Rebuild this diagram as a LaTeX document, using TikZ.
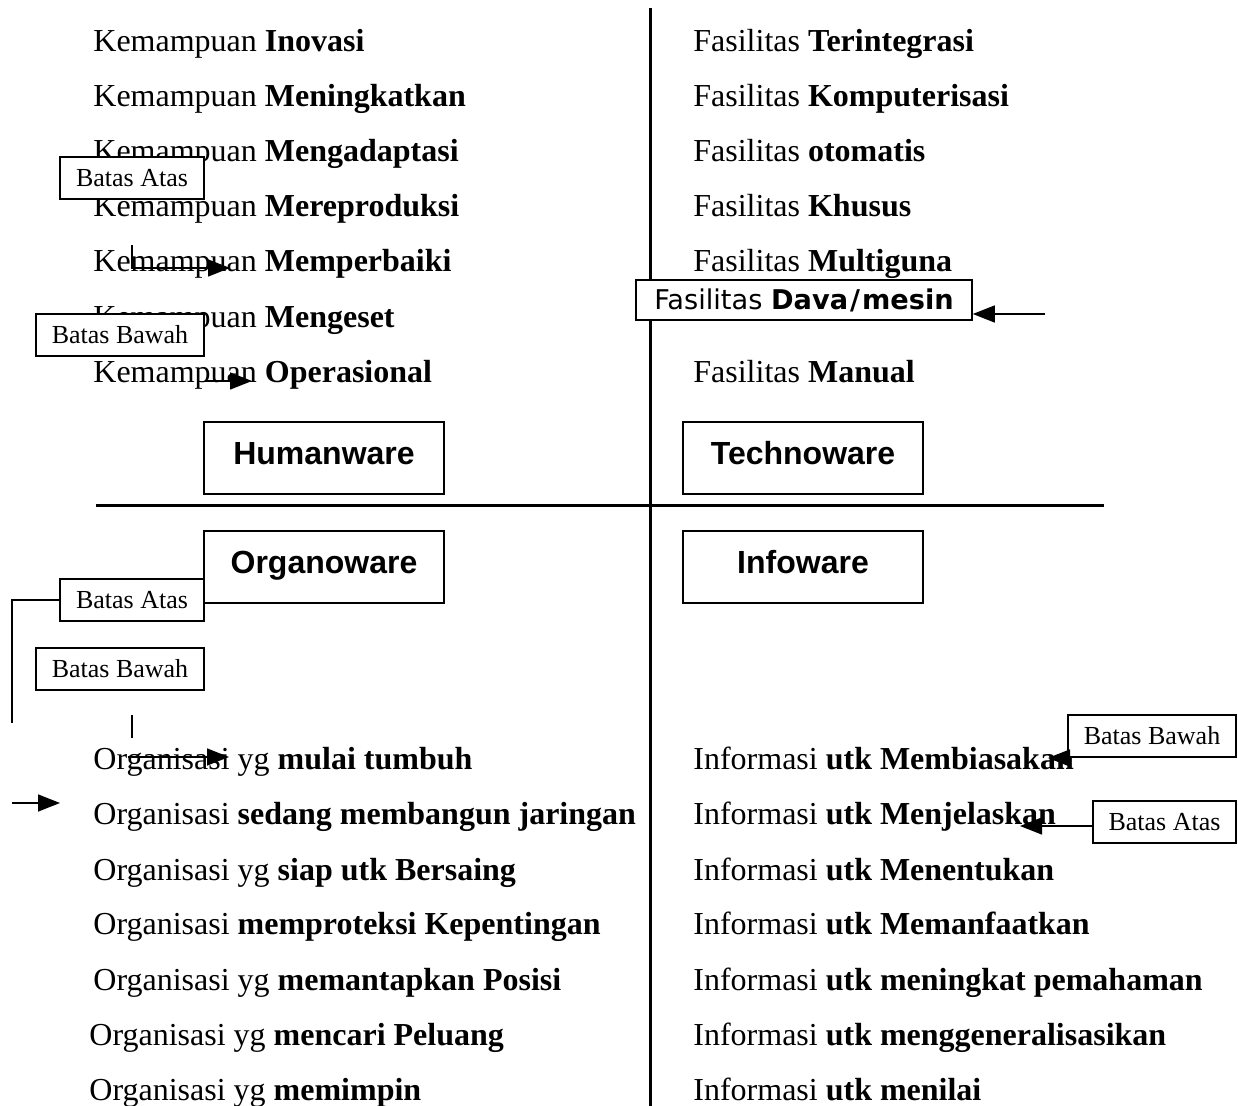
\documentclass[tikz,border=0pt]{standalone}
\usepackage{fontspec}
\setmainfont{Liberation Serif}
\newfontfamily\arialf{Liberation Sans}
\newfontfamily\verdf{DejaVu Sans}
\usetikzlibrary{arrows.meta}
\begin{document}
\begin{tikzpicture}[x=0.5pt,y=-0.5pt,
  txt/.style={anchor=base west, inner sep=0, font=\fontsize{16}{19}\selectfont},
  batas/.style={draw, line width=0.6pt, fill=white, inner sep=0, minimum height=21pt, font=\fontsize{13}{15}\selectfont},
  ware/.style={draw, line width=1.2pt, fill=white, minimum width=120pt, minimum height=36pt, inner sep=0, text height=11.5pt, text depth=5pt, font=\arialf\bfseries\fontsize{16}{19}\selectfont},
  fasbox/.style={draw, line width=0.8pt, fill=white, minimum width=168pt, minimum height=20pt, inner sep=0, font=\verdf\fontsize{13.6}{15}\selectfont},
  arr/.style={line width=0.75pt, -{Triangle[length=11pt,width=8.5pt]}},
  thinline/.style={line width=0.75pt},
  axisline/.style={line width=1.5pt}]
\useasboundingbox (0,0) rectangle (1238,1106);

% ---- Humanware texts
\node[txt] (h1) at (93,52)  {Kemampuan \textbf{Inovasi}};
\node[txt] (h2) at (93,107) {Kemampuan \textbf{Meningkatkan}};
\node[txt] (h3) at (93,162) {Kemampuan \textbf{Mengadaptasi}};
\node[txt] (h4) at (93,217) {Kemampuan \textbf{Mereproduksi}};
\node[txt] (h5) at (93,272) {Kemampuan \textbf{Memperbaiki}};
\node[txt] (h6) at (93,328) {Kemampuan \textbf{Mengeset}};
\node[txt] (h7) at (93,383) {Kemampuan \textbf{Operasional}};

% ---- Technoware texts
\node[txt] (f1) at (693,52)  {Fasilitas \textbf{Terintegrasi}};
\node[txt] (f2) at (693,107) {Fasilitas \textbf{Komputerisasi}};
\node[txt] (f3) at (693,162) {Fasilitas \textbf{otomatis}};
\node[txt] (f4) at (693,217) {Fasilitas \textbf{Khusus}};
\node[txt] (f5) at (693,272) {Fasilitas \textbf{Multiguna}};
\node[txt] (f7) at (693,383) {Fasilitas \textbf{Manual}};

% ---- Organoware texts
\node[txt] (o1) at (93,770)  {Organisasi yg \textbf{mulai tumbuh}};
\node[txt] (o2) at (93,825)  {Organisasi \textbf{sedang membangun jaringan}};
\node[txt] (o3) at (93,880)  {Organisasi yg \textbf{siap utk Bersaing}};
\node[txt] (o4) at (93,935)  {Organisasi \textbf{memproteksi Kepentingan}};
\node[txt] (o5) at (93,990)  {Organisasi yg \textbf{memantapkan Posisi}};
\node[txt] (o6) at (89,1045) {Organisasi yg \textbf{mencari Peluang}};
\node[txt] (o7) at (89,1100) {Organisasi yg \textbf{memimpin}};

% ---- Infoware texts
\node[txt] (i1) at (693,770)  {Informasi \textbf{utk Membiasakan}};
\node[txt] (i2) at (693,825)  {Informasi \textbf{utk Menjelaskan}};
\node[txt] (i3) at (693,880)  {Informasi \textbf{utk Menentukan}};
\node[txt] (i4) at (693,935)  {Informasi \textbf{utk Memanfaatkan}};
\node[txt] (i5) at (693,990)  {Informasi \textbf{utk meningkat pemahaman}};
\node[txt] (i6) at (693,1045) {Informasi \textbf{utk menggeneralisasikan}};
\node[txt] (i7) at (693,1100) {Informasi \textbf{utk menilai}};

% ---- cross lines
\coordinate (vtop) at (650,8);
\coordinate (vbot) at (650,1106);
\coordinate (hl) at (96,506);
\coordinate (hr) at (1104,506);
\draw[axisline] (vtop) -- (vbot);
\draw[axisline] (hl) -- (hr);

% ---- boxes
\node[ware] (hw) at (324,458) {Humanware};
\node[ware] (tw) at (803,458) {Technoware};
\node[ware] (ow) at (324,567) {Organoware};
\node[ware] (iw) at (803,567) {Infoware};

\node[fasbox] (fas) at (804,300) {Fasilitas \textbf{Dava\kern1pt/\kern1pt mesin}};

\node[batas, minimum width=72pt] (ba1) at (132,178) {Batas Atas};
\node[batas, minimum width=84pt] (bb1) at (120,335) {Batas Bawah};
\node[batas, minimum width=72pt] (ba2) at (132,600) {Batas Atas};
\node[batas, minimum width=84pt] (bb2) at (120,669) {Batas Bawah};
\node[batas, minimum width=84pt] (bb3) at (1152,736) {Batas Bawah};
\node[batas, minimum width=71.5pt] (ba3) at (1164.5,822) {Batas Atas};

% ---- connectors
\coordinate (a1s) at (132,245);
\coordinate (a1e) at (230,268);
\draw[arr] (a1s) |- (a1e);

\coordinate (a2s) at (205,381);
\coordinate (a2e) at (252,381);
\draw[arr] (a2s) -- (a2e);

\coordinate (a3s) at (1045,314);
\draw[arr] (a3s) -- (a3s -| fas.east);

\coordinate (a4e) at (12,723);
\draw[thinline] (ba2.west) -| (a4e);

\coordinate (a5s) at (12,803);
\coordinate (a5e) at (60,803);
\draw[arr] (a5s) -- (a5e);

\coordinate (a6s) at (132,715);
\coordinate (a6e) at (132,738);
\draw[thinline] (a6s) -- (a6e);
\coordinate (a7s) at (128,757);
\coordinate (a7e) at (229,757);
\draw[arr] (a7s) -- (a7e);

\coordinate (a8e) at (1048,758);
\draw[arr] (bb3.south west |- a8e) -- (a8e);
\coordinate (a9e) at (1020,826);
\draw[arr] (ba3.west |- a9e) -- (a9e);
\end{tikzpicture}
\end{document}
